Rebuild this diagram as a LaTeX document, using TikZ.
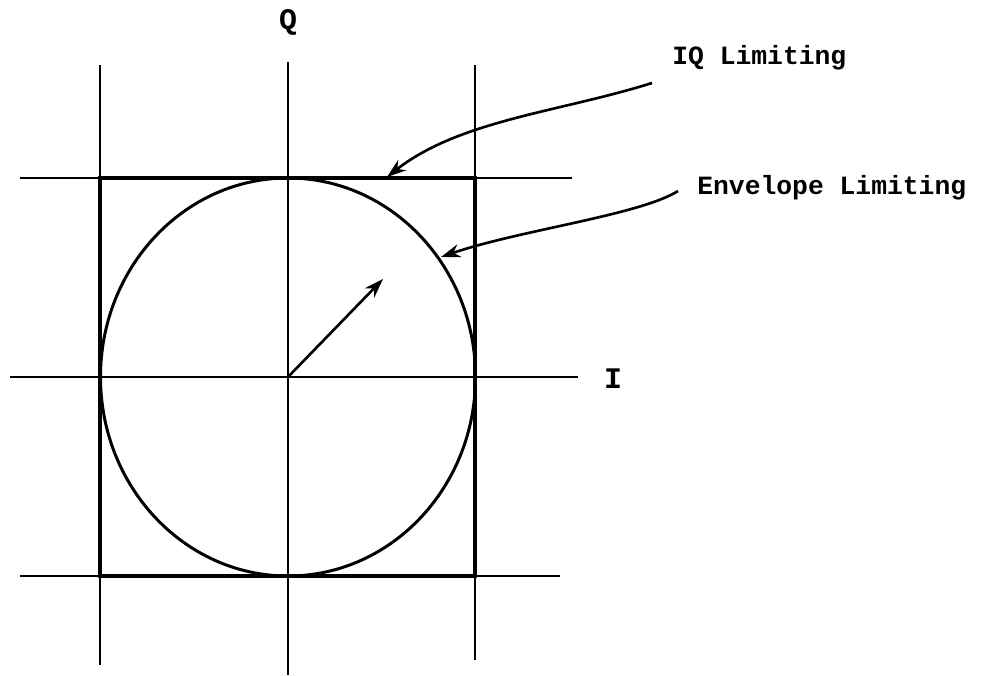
\documentclass[tikz,border=0pt]{standalone}
\usepackage{fontspec}
\newfontfamily\typefont{Liberation Mono}
\usetikzlibrary{arrows.meta,positioning,calc}

\begin{document}
\begin{tikzpicture}[
    x=0.02cm, y=-0.02cm,
    axis/.style={line width=1.2pt},
    limit/.style={line width=2.3pt},
    envelope/.style={line width=1.7pt},
    arrow/.style={-{Stealth[length=11pt,width=7.5pt]}, line width=1.5pt},
    label/.style={font=\typefont\bfseries\fontsize{15}{17}\selectfont, inner sep=0pt}
]
\useasboundingbox (0,0) rectangle (982,675);

% Grid lines
\draw[axis] (100,65) -- (100,665);
\draw[axis] (288,62) -- (288,675);
\draw[axis] (475,65) -- (475,660);
\draw[axis] (20,178) -- (572,178);
\draw[axis] (10,377) -- (578,377);
\draw[axis] (20,576) -- (560,576);

% IQ limiting square and envelope circle
\coordinate (origin) at (288,377);
\draw[limit] (100,178) rectangle (475,576);
\draw[envelope] (origin) ellipse [x radius=187.5, y radius=199];
\coordinate (vec-tip) at (383,279);
\draw[arrow] (origin) -- (vec-tip);

% Axis labels
\node[label, font=\typefont\bfseries\fontsize{17}{19}\selectfont] (q-label) at (288,22) {Q};
\node[label, font=\typefont\bfseries\fontsize{17}{19}\selectfont] (i-label) at (613,379) {I};

% Limiting labels
\node[label, anchor=west] (iq-label) at (672,58) {IQ Limiting};
\node[label, anchor=west] (env-label) at (697,188) {Envelope Limiting};
\coordinate (iq-tip) at (387,177);
\coordinate (env-tip) at (441,257);
\draw[arrow] ($(iq-label.west)+(-20,25)$) .. controls (560,112) and (460,120) .. (iq-tip);
\draw[arrow] ($(env-label.west)+(-19,3)$) .. controls (640,215) and (520,230) .. (env-tip);

\end{tikzpicture}
\end{document}
